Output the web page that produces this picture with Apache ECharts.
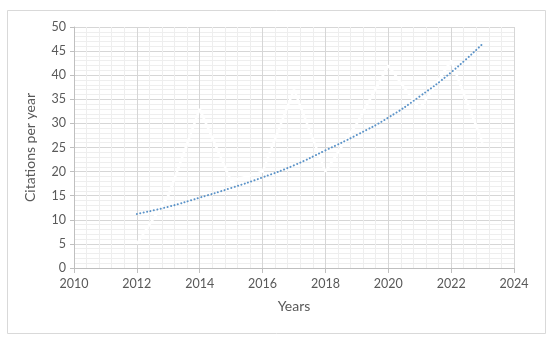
<!DOCTYPE html>
<html>
<head>
<meta charset="utf-8">
<script src="https://cdn.jsdelivr.net/npm/echarts@6/dist/echarts.min.js"></script>
<style>
html,body{margin:0;padding:0;background:#fff;}
#chart{width:550px;height:340px;}
</style>
</head>
<body>
<div id="chart"></div>
<script>
const years = [2012, 2013, 2014, 2015, 2016, 2017, 2018, 2019, 2020, 2021, 2022, 2023];
const citations = [5, 15, 33, 18, 20, 37, 20, 30, 42, 33, 43, 26];
const trendValues = [11.2, 12.7, 14.6, 16.6, 18.8, 21.3, 24.4, 27.6, 31.2, 35.6, 40.6, 46.5];
const xTitle = 'Years';
const yTitle = 'Citations per year';

const font = 'Lato, "Open Sans", sans-serif';
const chart = echarts.init(document.getElementById('chart'), null, {renderer: 'canvas'});
chart.setOption({
  backgroundColor: '#ffffff',
  animation: false,
  graphic: [{
    type: 'rect', left: 7, top: 10, z: -10,
    shape: {width: 538, height: 323},
    style: {fill: '#ffffff', stroke: '#d9d9d9', lineWidth: 1}
  }],
  grid: {left: 74, top: 27, right: 36, bottom: 72, containLabel: false},
  xAxis: {
    type: 'value', min: 2010, max: 2024, interval: 2,
    name: xTitle, nameLocation: 'middle', nameGap: 31,
    nameTextStyle: {fontFamily: font, fontSize: 14, color: '#595959'},
    axisLine: {show: true, lineStyle: {color: '#bfbfbf', width: 1}},
    axisTick: {show: true, length: 5, lineStyle: {color: '#bfbfbf'}},
    axisLabel: {fontFamily: font, fontSize: 12.5, color: '#595959', margin: 9,
      formatter: v => String(v)},
    splitLine: {show: true, lineStyle: {color: '#d6d6d6', width: 1}},
    minorTick: {show: false, splitNumber: 5},
    minorSplitLine: {show: true, lineStyle: {color: '#eeeeee', width: 1}}
  },
  yAxis: {
    type: 'value', min: 0, max: 50, interval: 5,
    name: yTitle, nameLocation: 'middle', nameGap: 37, nameRotate: 90,
    nameTextStyle: {fontFamily: font, fontSize: 14, color: '#595959'},
    axisLine: {show: true, lineStyle: {color: '#bfbfbf', width: 1}},
    axisTick: {show: true, length: 4, lineStyle: {color: '#bfbfbf'}},
    axisLabel: {fontFamily: font, fontSize: 12.5, color: '#595959', margin: 8},
    splitLine: {show: true, lineStyle: {color: '#d6d6d6', width: 1}},
    minorTick: {show: false, splitNumber: 5},
    minorSplitLine: {show: true, lineStyle: {color: '#eeeeee', width: 1}}
  },
  series: [
    {
      name: 'Citations', type: 'line',
      data: years.map((y, i) => [y, citations[i]]),
      showSymbol: false, symbol: 'none',
      lineStyle: {color: '#ffffff', width: 2.5},
      z: 2
    },
    {
      name: 'Trend', type: 'line', smooth: true,
      data: years.map((y, i) => [y, trendValues[i]]),
      showSymbol: false, symbol: 'none',
      lineStyle: {color: '#5b93c8', width: 2, type: [0.1, 3.4], cap: 'round'},
      z: 3
    }
  ]
});
</script>
</body>
</html>
